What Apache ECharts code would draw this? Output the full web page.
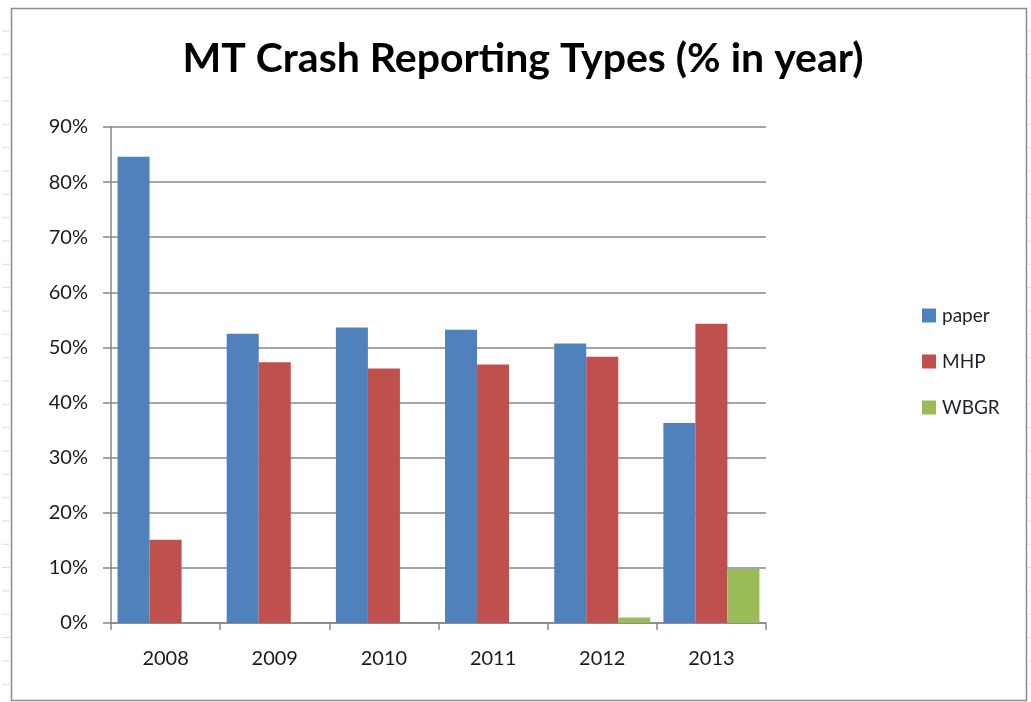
<!DOCTYPE html>
<html>
<head>
<meta charset="utf-8">
<script src="https://cdn.jsdelivr.net/npm/echarts@6/dist/echarts.min.js"></script>
<style>
  html, body { margin: 0; padding: 0; background: #fff; }
  #chart { width: 1031px; height: 702px; }
</style>
</head>
<body>
<div id="chart"></div>
<script>
// Values, in percent of the year
const years = ["2008", "2009", "2010", "2011", "2012", "2013"];
const paper = [84.6, 52.5, 53.6, 53.2, 50.7, 36.3];
const mhp = [15.1, 47.3, 46.2, 46.9, 48.3, 54.3];
const wbgr = [0, 0, 0, 0, 1.0, 9.8];
const yTicks = [0, 10, 20, 30, 40, 50, 60, 70, 80, 90];

const seriesNames = ["paper", "MHP", "WBGR"];
const seriesColors = ["#4F81BD", "#C0504D", "#9BBB59"];
const axisGray = "#878787";
const fontFamily = "Lato, 'Open Sans', sans-serif";

const chart = echarts.init(document.getElementById("chart"));

// faint spreadsheet row marks peeking out beside the chart frame
const sheetMarks = [];
for (let y = 31; y < 700; y += 23.33) {
	sheetMarks.push({
		type: "line",
		shape: { x1: 2, y1: y, x2: 10, y2: y },
		style: { stroke: "#dcdcdc", lineWidth: 1 },
		silent: true,
	});
	sheetMarks.push({
		type: "line",
		shape: { x1: 1028, y1: y, x2: 1031, y2: y },
		style: { stroke: "#dcdcdc", lineWidth: 1 },
		silent: true,
	});
}

const option = {
	animation: false,
	backgroundColor: "#ffffff",
	color: seriesColors,
	textStyle: { fontFamily: fontFamily },
	graphic: [
		...sheetMarks,
		{
			type: "rect",
			shape: { x: 11.5, y: 8.5, width: 1015, height: 692 },
			style: { fill: "none", stroke: "#8c8c8c", lineWidth: 1.5 },
			silent: true,
			z: -1,
		},
	],
	title: {
		text: "MT Crash Reporting Types (% in year)",
		left: 518,
		textAlign: "center",
		top: 33,
		textStyle: {
			fontFamily: fontFamily,
			fontSize: 41,
			fontWeight: "bold",
			color: "#000000",
		},
	},
	legend: {
		orient: "vertical",
		left: 917,
		top: 301,
		itemWidth: 14,
		itemHeight: 14,
		itemGap: 27,
		icon: "rect",
		data: seriesNames,
		textStyle: {
			fontFamily: fontFamily,
			fontSize: 19,
			color: "#1f1f2e",
			padding: [0, 0, 0, 1],
		},
	},
	grid: {
		left: 111,
		right: 265,
		top: 127,
		bottom: 79,
		containLabel: false,
	},
	xAxis: {
		type: "category",
		data: years,
		axisLine: { lineStyle: { color: axisGray, width: 1.5 } },
		axisTick: {
			show: true,
			alignWithLabel: false,
			length: 7,
			lineStyle: { color: axisGray, width: 1.5 },
		},
		axisLabel: {
			margin: 26,
			fontSize: 20,
			color: "#1a1a1a",
			fontFamily: fontFamily,
		},
	},
	yAxis: {
		type: "value",
		min: yTicks[0],
		max: yTicks[yTicks.length - 1],
		interval: 10,
		axisLine: { show: true, lineStyle: { color: axisGray, width: 1.5 } },
		axisTick: {
			show: true,
			length: 8,
			lineStyle: { color: axisGray, width: 1.5 },
		},
		splitLine: { lineStyle: { color: axisGray, width: 1.5 } },
		axisLabel: {
			margin: 23,
			fontSize: 20,
			color: "#1a1a1a",
			fontFamily: fontFamily,
			formatter: "{value}%",
		},
	},
	series: [
		{ name: seriesNames[0], type: "bar", data: paper, barGap: "0%", barCategoryGap: "12%" },
		{ name: seriesNames[1], type: "bar", data: mhp, barGap: "0%", barCategoryGap: "12%" },
		{ name: seriesNames[2], type: "bar", data: wbgr, barGap: "0%", barCategoryGap: "12%" },
	],
};

chart.setOption(option);
</script>
</body>
</html>
